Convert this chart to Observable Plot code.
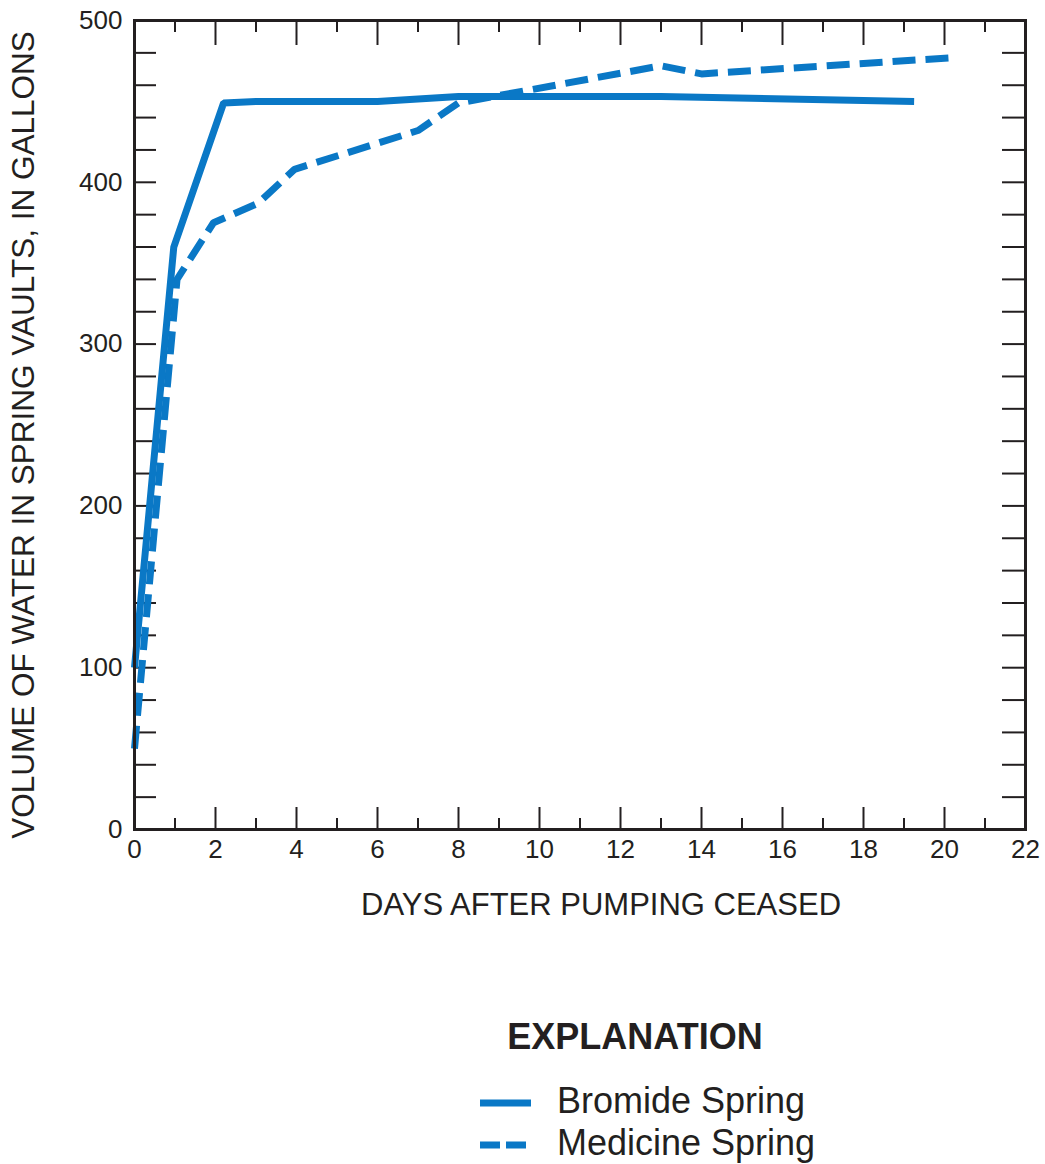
<!DOCTYPE html>
<html>
<head>
<meta charset="utf-8">
<script src="https://cdn.jsdelivr.net/npm/d3@7"></script>
<script src="https://cdn.jsdelivr.net/npm/@observablehq/plot@0.6"></script>
<style>
  html, body { margin: 0; padding: 0; background: #ffffff; }
  #wrap { position: relative; width: 1045px; height: 1164px; overflow: hidden; }
  #chart { position: absolute; left: 0; top: 0; }
  #legend { position: absolute; left: 0; top: 940px; }
</style>
</head>
<body>
<div id="wrap">
  <div id="chart"></div>
  <svg id="legend" width="1045" height="224"></svg>
</div>
<script>
// ---- Data ----
const bromideDays   = [0, 0.97, 2.2, 3, 6, 8, 13, 19.25];
const bromideVolume = [100, 360, 449, 450, 450, 453, 453, 450];

const medicineDays   = [0, 1.05, 1.95, 3.05, 3.95, 7, 8, 13, 14, 20.2];
const medicineVolume = [50, 340, 375, 387, 408, 432, 449, 472, 467, 477];

const xLabelTicks = [0, 2, 4, 6, 8, 10, 12, 14, 16, 18, 20, 22];
const xMinorTicks = [1, 3, 5, 7, 9, 11, 13, 15, 17, 19, 21];
const xMajorTicks = [2, 4, 6, 8, 10, 12, 14, 16, 18, 20];
const yLabelTicks = [0, 100, 200, 300, 400, 500];
const yTicks = [20, 40, 60, 80, 100, 120, 140, 160, 180, 200, 220, 240, 260, 280, 300, 320, 340, 360, 380, 400, 420, 440, 460, 480];

const xTitle = "DAYS AFTER PUMPING CEASED";
const yTitle = "VOLUME OF WATER IN SPRING VAULTS, IN GALLONS";
const seriesNames = ["Bromide Spring", "Medicine Spring"];

const bromide = bromideDays.map((d, i) => ({day: d, volume: bromideVolume[i]}));
const medicine = medicineDays.map((d, i) => ({day: d, volume: medicineVolume[i]}));

const BLUE = "#0a78c6";
const INK = "#231f20";
const FONT = "'Liberation Sans', Arial, Helvetica, sans-serif";

const plot = Plot.plot({
  width: 1045,
  height: 940,
  marginLeft: 134,
  marginRight: 20,
  marginTop: 20,
  marginBottom: 111,
  style: {fontFamily: FONT, fontSize: "26px", color: INK, background: "transparent", overflow: "visible"},
  x: {domain: [0, 22]},
  y: {domain: [0, 500]},
  marks: [
    // tick labels
    Plot.axisX({anchor: "bottom", ticks: xLabelTicks, tickSize: 0, tickPadding: 10, tickFormat: d => String(d), label: null, fill: INK}),
    Plot.axisY({anchor: "left", ticks: yLabelTicks, tickSize: 0, tickPadding: 12, tickFormat: d => String(d), label: null, fill: INK}),
    // inward ticks
    Plot.axisX({anchor: "bottom", ticks: xMajorTicks, tickSize: -22, text: null, label: null, stroke: INK, strokeWidth: 2}),
    Plot.axisX({anchor: "bottom", ticks: xMinorTicks, tickSize: -11, text: null, label: null, stroke: INK, strokeWidth: 2}),
    Plot.axisX({anchor: "top", ticks: xMajorTicks, tickSize: -24, text: null, label: null, stroke: INK, strokeWidth: 2}),
    Plot.axisX({anchor: "top", ticks: xMinorTicks, tickSize: -11, text: null, label: null, stroke: INK, strokeWidth: 2}),
    Plot.axisY({anchor: "left", ticks: yTicks, tickSize: -22, text: null, label: null, stroke: INK, strokeWidth: 2}),
    Plot.axisY({anchor: "right", ticks: yTicks, tickSize: -24, text: null, label: null, stroke: INK, strokeWidth: 2}),
    // axis titles
    Plot.text([xTitle], {text: d => d, frameAnchor: "bottom", textAnchor: "middle", dx: 21, dy: 76, lineAnchor: "middle", fontSize: 31, fill: INK}),
    Plot.text([yTitle], {text: d => d, frameAnchor: "left", textAnchor: "middle", rotate: -90, dx: -111, dy: 10, lineAnchor: "middle", fontSize: 31.5, fill: INK}),
    // data
    Plot.line(medicine, {x: "day", y: "volume", stroke: BLUE, strokeWidth: 7, strokeDasharray: "23,10", strokeLinejoin: "miter", strokeLinecap: "butt"}),
    Plot.line(bromide, {x: "day", y: "volume", stroke: BLUE, strokeWidth: 7, strokeLinejoin: "miter", strokeLinecap: "butt"}),
    Plot.frame({stroke: INK, strokeWidth: 3})
  ]
});
document.getElementById("chart").appendChild(plot);

// ---- Explanation (legend) ----
const leg = d3.select("#legend");
leg.append("text")
  .attr("x", 635).attr("y", 109)
  .attr("text-anchor", "middle")
  .attr("font-family", FONT).attr("font-weight", "bold").attr("font-size", 36)
  .attr("fill", INK)
  .text("EXPLANATION");
const rows = [
  {name: seriesNames[0], y: 163, dash: null},
  {name: seriesNames[1], y: 205, dash: "20,6"}
];
rows.forEach(r => {
  leg.append("line")
    .attr("x1", 480).attr("x2", 531).attr("y1", r.y).attr("y2", r.y)
    .attr("stroke", BLUE).attr("stroke-width", 7)
    .attr("stroke-dasharray", r.dash);
  leg.append("text")
    .attr("x", 557).attr("y", r.y + 10)
    .attr("font-family", FONT).attr("font-size", 36)
    .attr("fill", INK)
    .text(r.name);
});
</script>
</body>
</html>
